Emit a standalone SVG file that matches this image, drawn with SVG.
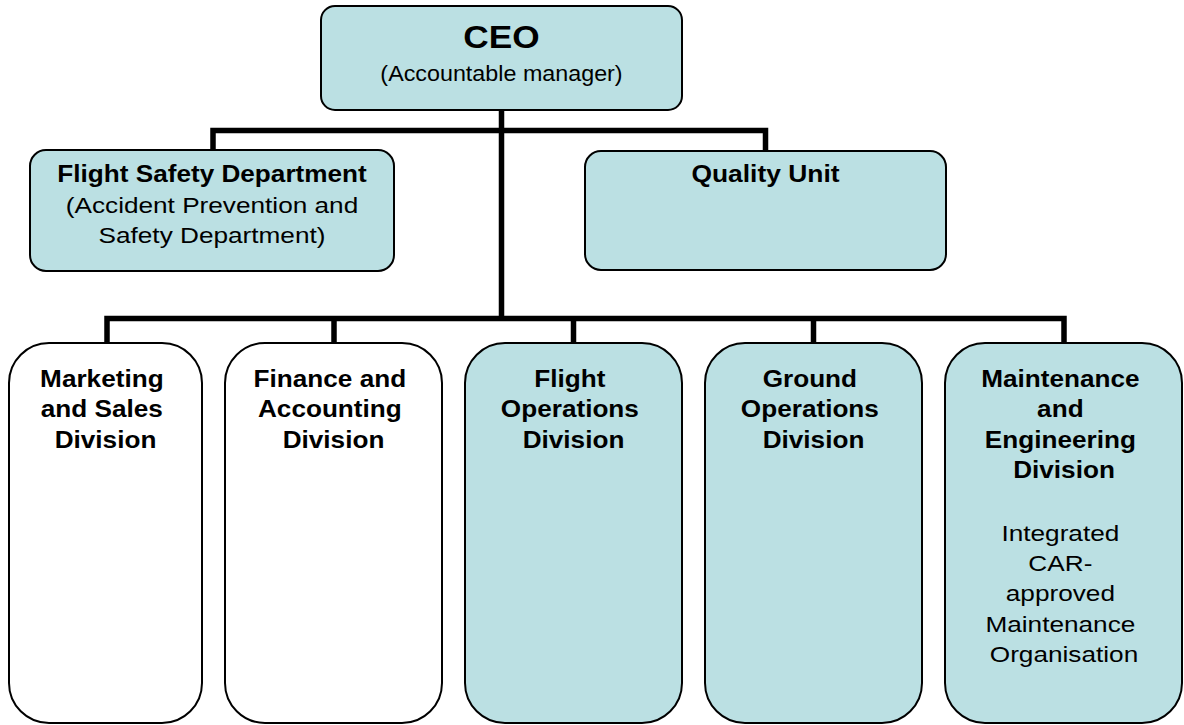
<svg xmlns="http://www.w3.org/2000/svg" width="1184" height="725" viewBox="0 0 1184 725">
  <style>
    .box { stroke: #000; stroke-width: 2; }
    .teal { fill: #BBE0E3; }
    .white { fill: #FFFFFF; }
    .conn { fill: none; stroke: #000; stroke-width: 5.5; stroke-linecap: butt; stroke-linejoin: miter; }
    text { font-family: "Liberation Sans", Arial, sans-serif; fill: #000; text-anchor: middle; }
    .b { font-weight: bold; font-size: 24px; }
    .r { font-size: 22px; }
    .big { font-weight: bold; font-size: 32px; }
  </style>
  <rect width="1184" height="725" fill="#FFFFFF"/>

  <g id="connectors">
    <path class="conn" d="M501.5 110 V321"/>
    <path class="conn" d="M213 150 V130.5 H765.5 V151"/>
    <path class="conn" d="M107 343 V318.5 H1064 V343"/>
    <path class="conn" d="M334 318.5 V343"/>
    <path class="conn" d="M573.5 318.5 V343"/>
    <path class="conn" d="M813.5 318.5 V343"/>
  </g>

  <g id="ceo">
    <rect class="box teal" x="321" y="6" width="361" height="104" rx="14"/>
    <text class="big" transform="translate(501.5 0) scale(1.1 1)" x="0" y="48">CEO</text>
    <text class="r" transform="translate(501.5 0) scale(1.06 1)" x="0" y="81">(Accountable manager)</text>
  </g>

  <g id="flight-safety">
    <rect class="box teal" x="30" y="150" width="364" height="121" rx="16"/>
    <text class="b" transform="translate(212 0) scale(1.09 1)" x="0" y="182">Flight Safety Department</text>
    <text class="r" transform="translate(212 0) scale(1.19 1)" x="0" y="213">(Accident Prevention and</text>
    <text class="r" transform="translate(212 0) scale(1.19 1)" x="0" y="243.5">Safety Department)</text>
  </g>

  <g id="quality">
    <rect class="box teal" x="585" y="151" width="361" height="119" rx="16"/>
    <text class="b" transform="translate(765.5 0) scale(1.1 1)" x="0" y="182.5">Quality Unit</text>
  </g>

  <g id="marketing">
    <rect class="box white" x="9" y="343" width="193" height="380" rx="40"/>
    <text class="b" transform="translate(105.5 0) scale(1.09 1)">
      <tspan x="0" y="387">Marketing</tspan>
      <tspan x="0" y="417.5">and Sales</tspan>
      <tspan x="0" y="448">Division</tspan>
    </text>
  </g>

  <g id="finance">
    <rect class="box white" x="225" y="343" width="217" height="380" rx="40"/>
    <text class="b" transform="translate(333.5 0) scale(1.09 1)">
      <tspan x="0" y="387">Finance and</tspan>
      <tspan x="0" y="417.5">Accounting</tspan>
      <tspan x="0" y="448">Division</tspan>
    </text>
  </g>

  <g id="flight-ops">
    <rect class="box teal" x="465" y="343" width="217" height="380" rx="40"/>
    <text class="b" transform="translate(573.5 0) scale(1.09 1)">
      <tspan x="0" y="387">Flight</tspan>
      <tspan x="0" y="417.5">Operations</tspan>
      <tspan x="0" y="448">Division</tspan>
    </text>
  </g>

  <g id="ground-ops">
    <rect class="box teal" x="705" y="343" width="217" height="380" rx="40"/>
    <text class="b" transform="translate(813.5 0) scale(1.09 1)">
      <tspan x="0" y="387">Ground</tspan>
      <tspan x="0" y="417.5">Operations</tspan>
      <tspan x="0" y="448">Division</tspan>
    </text>
  </g>

  <g id="maintenance">
    <rect class="box teal" x="945" y="343" width="237" height="380" rx="40"/>
    <text class="b" transform="translate(1064 0) scale(1.09 1)">
      <tspan x="0" y="387">Maintenance</tspan>
      <tspan x="0" y="417.5">and</tspan>
      <tspan x="0" y="448">Engineering</tspan>
      <tspan x="0" y="478.5">Division</tspan>
    </text>
    <text class="r" transform="translate(1064 0) scale(1.19 1)">
      <tspan x="0" y="541">Integrated</tspan>
      <tspan x="0" y="571.5">CAR-</tspan>
      <tspan x="0" y="601.5">approved</tspan>
      <tspan x="0" y="632">Maintenance</tspan>
      <tspan x="0" y="662">Organisation</tspan>
    </text>
  </g>
</svg>
